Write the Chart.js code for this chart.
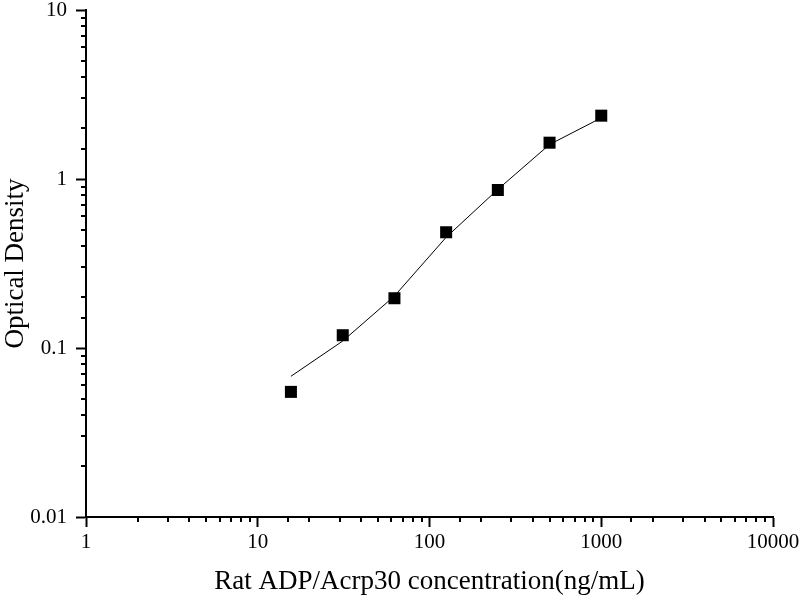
<!DOCTYPE html>
<html>
<head>
<meta charset="utf-8">
<script src="https://cdn.jsdelivr.net/npm/chart.js@4"></script>
<style>
  html, body { margin: 0; padding: 0; background: #fff; }
  #wrap { width: 800px; height: 600px; }
</style>
</head>
<body>
<div id="wrap"><canvas id="chart"></canvas></div>
<script>
// standards (ng/mL) and measured OD
const concentrations = [15.6, 31.25, 62.5, 125, 250, 500, 1000];
const odValues = [0.055, 0.119, 0.197, 0.484, 0.861, 1.64, 2.37];
// fitted curve
const fitX = [15.6, 31.25, 62.5, 125, 250, 500, 1000];
const fitY = [0.068, 0.110, 0.203, 0.452, 0.868, 1.60, 2.30];

const xMin = 1, xMax = 10000;
const yMin = 0.01, yMax = 10;

function isDecade(v) {
  const l = Math.log10(v);
  return Math.abs(l - Math.round(l)) < 1e-9;
}

// minor ticks are shorter than the major ones, draw them here
const minorTicks = {
  id: "minorTicks",
  afterDraw(chart) {
    const ctx = chart.ctx;
    ctx.save();
    ctx.strokeStyle = "#000";
    ctx.lineWidth = 2;
    const xs = chart.scales.x;
    xs.ticks.forEach((t) => {
      if (isDecade(t.value)) return;
      const px = Math.round(xs.getPixelForValue(t.value));
      ctx.beginPath();
      ctx.moveTo(px, xs.top);
      ctx.lineTo(px, xs.top + 5);
      ctx.stroke();
    });
    const ys = chart.scales.y;
    ys.ticks.forEach((t) => {
      if (isDecade(t.value)) return;
      const py = Math.round(ys.getPixelForValue(t.value));
      ctx.beginPath();
      ctx.moveTo(ys.right, py);
      ctx.lineTo(ys.right - 5, py);
      ctx.stroke();
    });
    ctx.restore();
  },
};

const font = "'Liberation Serif', 'Times New Roman', serif";

new Chart(document.getElementById("chart"), {
  type: "scatter",
  data: {
    datasets: [
      {
        label: "fit",
        data: fitX.map((x, i) => ({ x: x, y: fitY[i] })),
        showLine: true,
        borderColor: "#000",
        borderWidth: 1,
        pointRadius: 0,
        tension: 0,
      },
      {
        label: "OD",
        data: concentrations.map((x, i) => ({ x: x, y: odValues[i] })),
        pointStyle: "rect",
        pointRadius: 8.5,
        backgroundColor: "#000",
        borderColor: "#000",
        borderWidth: 0,
      },
    ],
  },
  options: {
    responsive: true,
    maintainAspectRatio: false,
    animation: false,
    layout: { padding: { top: 10, right: 27, left: 0, bottom: 0 } },
    plugins: { legend: { display: false }, tooltip: { enabled: false } },
    scales: {
      x: {
        type: "logarithmic",
        min: xMin,
        max: xMax,
        afterFit: (s) => {
          s.height = 83;
          s.paddingLeft = 0;
          s.paddingRight = 0;
        },
        border: { color: "#000", width: 2 },
        grid: {
          drawOnChartArea: false,
          tickLength: 10,
          tickWidth: 2,
          tickColor: (c) => (c.tick && isDecade(c.tick.value) ? "#000" : "rgba(0,0,0,0)"),
        },
        ticks: {
          autoSkip: false,
          maxRotation: 0,
          color: "#000",
          padding: 3,
          font: { family: font, size: 21 },
          callback: (v) => (isDecade(v) ? String(v) : ""),
        },
        title: {
          display: true,
          text: "Rat ADP/Acrp30 concentration(ng/mL)",
          color: "#000",
          font: { family: font, size: 27 },
          padding: { top: 4, bottom: 2 },
        },
      },
      y: {
        type: "logarithmic",
        min: yMin,
        max: yMax,
        afterFit: (s) => {
          s.width = 86;
          s.paddingTop = 0;
          s.paddingBottom = 0;
        },
        border: { color: "#000", width: 2 },
        grid: {
          drawOnChartArea: false,
          tickLength: 10,
          tickWidth: 2,
          tickColor: (c) => (c.tick && isDecade(c.tick.value) ? "#000" : "rgba(0,0,0,0)"),
        },
        ticks: {
          autoSkip: false,
          color: "#000",
          padding: 9,
          font: { family: font, size: 21 },
          callback: (v) => (isDecade(v) ? String(v) : ""),
        },
        title: {
          display: true,
          text: "Optical Density",
          color: "#000",
          font: { family: font, size: 27 },
          padding: { top: 0, bottom: 0 },
        },
      },
    },
  },
  plugins: [minorTicks],
});
</script>
</body>
</html>
